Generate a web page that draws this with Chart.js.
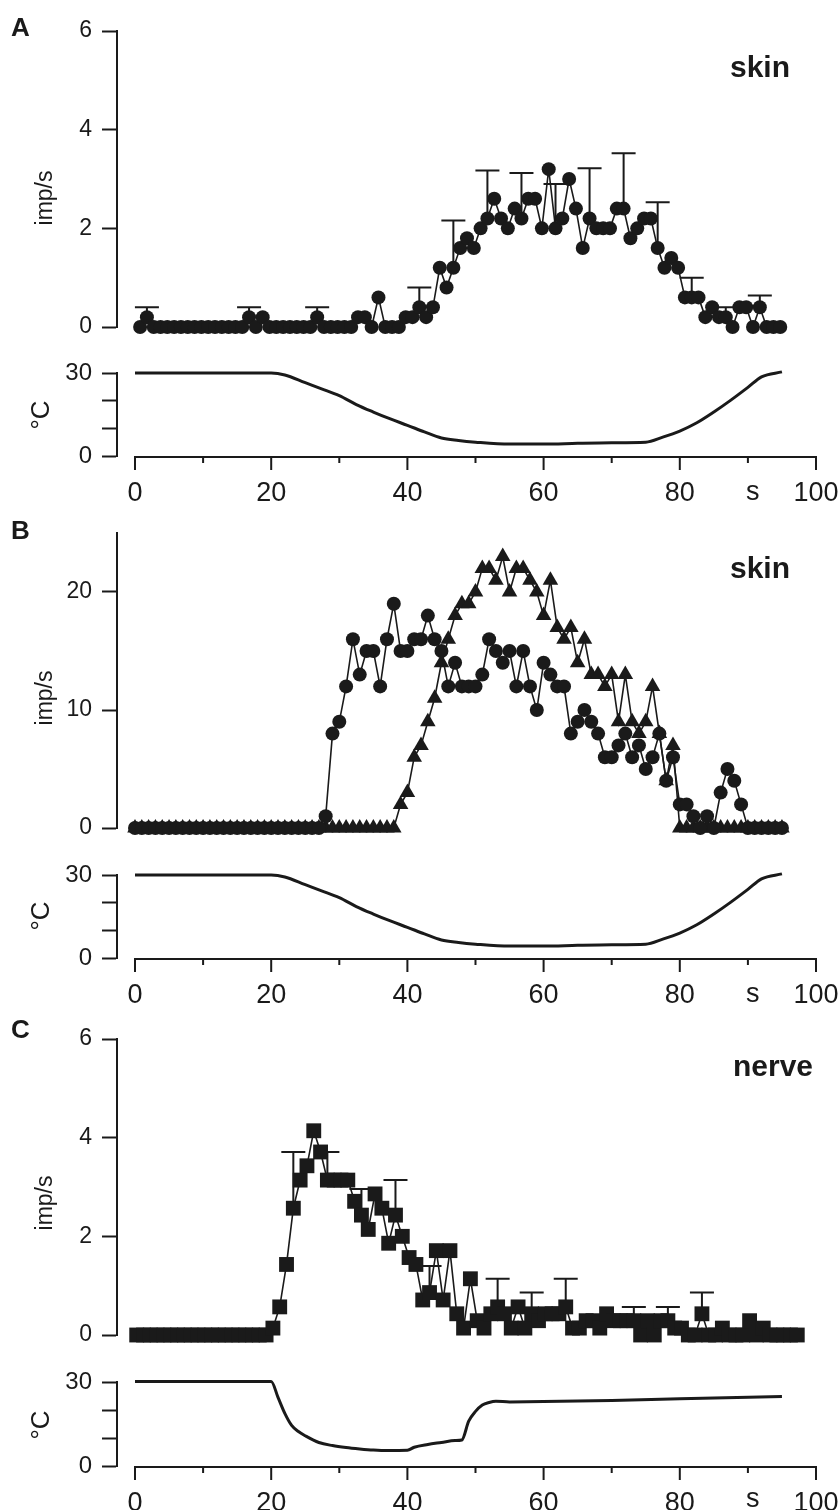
<!DOCTYPE html>
<html><head><meta charset="utf-8">
<script src="https://cdn.jsdelivr.net/npm/chart.js@4"></script>
<style>
body{margin:0;background:#fff;width:838px;height:1510px;position:relative;overflow:hidden}
canvas{position:absolute;left:0}
</style>
</head><body>
<canvas id="aImp" width="838" height="345" style="top:0px"></canvas>
<canvas id="aTemp" width="838" height="170" style="top:345px"></canvas>
<canvas id="bImp" width="838" height="330" style="top:515px"></canvas>
<canvas id="bTemp" width="838" height="170" style="top:845px"></canvas>
<canvas id="cImp" width="838" height="335" style="top:1015px"></canvas>
<canvas id="cTemp" width="838" height="160" style="top:1350px"></canvas>
<script>
// ---------------- DATA ----------------
// Panel A (skin, circles), time in s
const tA = [0.75,1.75,2.75,3.75,4.75,5.75,6.75,7.75,8.75,9.75,10.75,11.75,12.75,13.75,14.75,15.75,16.75,17.75,18.75,19.75,20.75,21.75,22.75,23.75,24.75,25.75,26.75,27.75,28.75,29.75,30.75,31.75,32.75,33.75,34.75,35.75,36.75,37.75,38.75,39.75,40.75,41.75,42.75,43.75,44.75,45.75,46.75,47.75,48.75,49.75,50.75,51.75,52.75,53.75,54.75,55.75,56.75,57.75,58.75,59.75,60.75,61.75,62.75,63.75,64.75,65.75,66.75,67.75,68.75,69.75,70.75,71.75,72.75,73.75,74.75,75.75,76.75,77.75,78.75,79.75,80.75,81.75,82.75,83.75,84.75,85.75,86.75,87.75,88.75,89.75,90.75,91.75,92.75,93.75,94.75];
const impA = [0,0.2,0,0,0,0,0,0,0,0,
  0,0,0,0,0,0,0.2,0,0.2,0,
  0,0,0,0,0,0,0.2,0,0,0,
  0,0,0.2,0.2,0,0.6,0,0,0,0.2,
  0.2,0.4,0.2,0.4,1.2,0.8,1.2,1.6,1.8,1.6,
  2.0,2.2,2.6,2.2,2.0,2.4,2.2,2.6,2.6,2.0,
  3.2,2.0,2.2,3.0,2.4,1.6,2.2,2.0,2.0,2.0,
  2.4,2.4,1.8,2.0,2.2,2.2,1.6,1.2,1.4,1.2,
  0.6,0.6,0.6,0.2,0.4,0.2,0.2,0,0.4,0.4,
  0,0.4,0,0,0];
const errIndexA = [1,16,26,41,46,51,56,61,66,71,76,81,86,91];
const errTopA   = [0.4,0.4,0.4,0.8,2.16,3.17,3.12,2.9,3.22,3.52,2.53,1.0,0.4,0.64];

// Panel B (skin, circles and triangles)
const tB = [0,1,2,3,4,5,6,7,8,9,10,11,12,13,14,15,16,17,18,19,20,21,22,23,24,25,26,27,28,29,30,31,32,33,34,35,36,37,38,39,40,41,42,43,44,45,46,47,48,49,50,51,52,53,54,55,56,57,58,59,60,61,62,63,64,65,66,67,68,69,70,71,72,73,74,75,76,77,78,79,80,81,82,83,84,85,86,87,88,89,90,91,92,93,94,95];
const circB = [0,0,0,0,0,0,0,0,0,0,0,0,0,0,0,0,0,0,0,0,0,0,0,0,0,0,0,0,
  1,8,9,12,16,13,15,15,12,16,
  19,15,15,16,16,18,16,15,12,14,
  12,12,12,13,16,15,14,15,12,15,
  12,10,14,13,12,12,8,9,10,9,
  8,6,6,7,8,6,7,5,6,8,
  4,6,2,2,1,0,1,0,3,5,
  4,2,0,0,0,0,0,0];
const triB = [0,0,0,0,0,0,0,0,0,0,0,0,0,0,0,0,0,0,0,0,0,0,0,0,0,0,0,0,0,0,0,0,0,0,0,0,0,0,0,
  2,3,6,7,9,11,14,16,18,19,
  19,20,22,22,21,23,20,22,22,21,
  20,18,21,17,16,17,14,16,13,13,
  12,13,9,13,9,8,9,12,8,4,
  7,0,0,0,0,0,0,0,0,0,0,0,0,0,0,0,0];

// Panel C (nerve, squares)
const tC = [0.25,1.25,2.25,3.25,4.25,5.25,6.25,7.25,8.25,9.25,10.25,11.25,12.25,13.25,14.25,15.25,16.25,17.25,18.25,19.25,20.25,21.25,22.25,23.25,24.25,25.25,26.25,27.25,28.25,29.25,30.25,31.25,32.25,33.25,34.25,35.25,36.25,37.25,38.25,39.25,40.25,41.25,42.25,43.25,44.25,45.25,46.25,47.25,48.25,49.25,50.25,51.25,52.25,53.25,54.25,55.25,56.25,57.25,58.25,59.25,60.25,61.25,62.25,63.25,64.25,65.25,66.25,67.25,68.25,69.25,70.25,71.25,72.25,73.25,74.25,75.25,76.25,77.25,78.25,79.25,80.25,81.25,82.25,83.25,84.25,85.25,86.25,87.25,88.25,89.25,90.25,91.25,92.25,93.25,94.25,95.25,96.25,97.25];
const impC = [0,0,0,0,0,0,0,0,0,0,0,0,0,0,0,0,0,0,0,0,
  0.14,0.57,1.43,2.57,3.14,3.43,4.14,3.71,3.14,3.14,
  3.14,3.14,2.71,2.43,2.14,2.86,2.57,1.86,2.43,2.0,
  1.57,1.43,0.71,0.86,1.71,0.71,1.71,0.43,0.14,1.14,
  0.29,0.14,0.43,0.57,0.43,0.14,0.57,0.14,0.43,0.29,
  0.43,0.43,0.43,0.57,0.14,0.14,0.29,0.29,0.14,0.43,
  0.29,0.29,0.29,0.29,0,0.29,0,0.29,0.29,0.14,
  0.14,0,0,0.43,0,0,0.14,0,0,0,
  0.29,0,0.14,0,0,0,0,0];
const errIndexC = [23,28,33,38,43,53,58,63,73,78,83];
const errTopC   = [3.71,3.71,2.96,3.14,1.4,1.14,0.86,1.14,0.57,0.57,0.86];

// Skin temperature protocol (panels A and B)
const tTempSkin = [0,20,22,25,27.5,30,32.5,35,37.5,40,42.5,45,47.5,50,55,60,65,70,75,77.5,80,82.5,85,87.5,90,92,95];
const tempSkin  = [30,30,29.3,26.5,24.2,21.8,18.6,15.9,13.4,11.1,8.7,6.5,5.6,5.0,4.3,4.3,4.6,4.8,5.0,6.8,9.0,12.0,15.9,20.2,24.8,28.6,30.4];
// Nerve temperature protocol (panel C)
const tTempNerve = [0,20,21,22,23,24,25,27,29,31,33,35,37,40,41,43,45,47,48,49,50,51,52,53,55,60,70,80,95];
const tempNerve  = [30.2,30.2,24.5,18.8,14.5,12.3,10.8,8.4,7.3,6.6,6.1,5.7,5.5,5.6,6.7,7.7,8.4,9.1,9.3,16,19.5,21.8,22.7,23.1,22.9,23,23.4,24,24.8];

// Axis ticks
const xTickVals = [0,20,40,60,80,100];
const xMarkVals = [0,10,20,30,40,50,60,70,80,90,100];
const tempTickVals = [0,10,20,30];
const tempTickLabels = ['0','','','30'];
const impTicksSmall = [0,2,4,6];
const impTicksLarge = [0,10,20];

// ---------------- RENDERING ----------------
const INK = '#1a1a1a';
const FONT = "'Liberation Sans', Arial, Helvetica, sans-serif";
const X_MIN = -2.643;

function pts(ts, vs){ return ts.map((t,i)=>({x:t, y:vs[i]})); }

function errorBarPlugin(){
  return { id:'errorBars', beforeDatasetsDraw(chart){
    const ctx = chart.ctx, xs = chart.scales.x, ys = chart.scales.y;
    chart.data.datasets.forEach(ds=>{
      if(!ds.errIndex) return;
      ctx.save(); ctx.strokeStyle = INK; ctx.lineWidth = 2;
      ds.errIndex.forEach((idx,j)=>{
        const p = ds.data[idx];
        const px = xs.getPixelForValue(p.x), py = ys.getPixelForValue(p.y), pt = ys.getPixelForValue(ds.errTop[j]);
        ctx.beginPath(); ctx.moveTo(px,py); ctx.lineTo(px,pt);
        ctx.moveTo(px-12,pt); ctx.lineTo(px+12,pt); ctx.stroke();
      });
      ctx.restore();
    });
  }};
}
function textPlugin(items){
  return { id:'texts', afterDraw(chart){
    const ctx = chart.ctx;
    items.forEach(it=>{
      ctx.save(); ctx.fillStyle = INK; ctx.font = it.font;
      ctx.textAlign = it.align || 'center'; ctx.textBaseline = it.baseline || 'middle';
      const x = (it.xVal !== undefined) ? chart.scales.x.getPixelForValue(it.xVal) : it.x;
      ctx.translate(x, it.y); if(it.rot) ctx.rotate(it.rot);
      ctx.fillText(it.text, 0, 0); ctx.restore();
    });
  }};
}
function xAxisPlugin(){
  return { id:'xAxisLine', afterDraw(chart){
    const ctx = chart.ctx, xs = chart.scales.x, y0 = chart.chartArea.bottom + 1;
    ctx.save(); ctx.strokeStyle = INK; ctx.lineWidth = 2; ctx.beginPath();
    ctx.moveTo(xs.getPixelForValue(0)-1, y0); ctx.lineTo(xs.getPixelForValue(100)+1, y0);
    xMarkVals.forEach(v=>{ const px = xs.getPixelForValue(v); const len = xTickVals.includes(v) ? 13 : 6;
      ctx.moveTo(px, y0); ctx.lineTo(px, y0+len); });
    ctx.stroke(); ctx.restore();
  }};
}

function impChart(id, cfg){
  return new Chart(document.getElementById(id), {
    type:'line',
    data:{ datasets: cfg.datasets },
    options:{
      responsive:false, animation:false, events:[],
      layout:{ padding:{ left:0, right:22, top:cfg.areaTop, bottom:cfg.h - cfg.areaBottom } },
      plugins:{ legend:{display:false}, tooltip:{enabled:false} },
      scales:{
        x:{ type:'linear', display:false, min:X_MIN, max:100 },
        y:{ type:'linear', min:0, max:cfg.yMax,
            afterBuildTicks: s=>{ s.ticks = cfg.yTicks.map(v=>({value:v})); },
            afterFit: s=>{ s.width = 117; s.paddingTop = 0; s.paddingBottom = 0; },
            border:{ display:true, color:INK, width:2 },
            grid:{ drawOnChartArea:false, drawTicks:true, tickLength:15, tickWidth:2, tickColor:INK },
            ticks:{ color:INK, padding:10, autoSkip:false, font:{ family:FONT, size:23 } } }
      }
    },
    plugins:[errorBarPlugin(), textPlugin(cfg.texts)]
  });
}

function tempChart(id, cfg){
  const axisH = cfg.h - cfg.areaBottom;
  return new Chart(document.getElementById(id), {
    type:'line',
    data:{ datasets:[{ data: pts(cfg.t, cfg.v), borderColor:INK, borderWidth:3, pointRadius:0,
      cubicInterpolationMode:'monotone', clip:false }] },
    options:{
      responsive:false, animation:false, events:[],
      layout:{ padding:{ left:0, right:22, top:cfg.areaTop, bottom:0 } },
      plugins:{ legend:{display:false}, tooltip:{enabled:false} },
      scales:{
        x:{ type:'linear', min:X_MIN, max:100,
            afterBuildTicks: s=>{ s.ticks = xTickVals.map(v=>({value:v})); },
            afterFit: s=>{ s.height = axisH; s.paddingLeft = 0; s.paddingRight = 0; },
            border:{ display:false },
            grid:{ display:true, drawOnChartArea:false, drawTicks:true, tickLength:13, color:'rgba(0,0,0,0)', tickColor:'rgba(0,0,0,0)' },
            ticks:{ color:INK, padding:8, autoSkip:false, maxRotation:0, font:{ family:FONT, size:27 } } },
        y:{ type:'linear', min:0, max:30,
            afterBuildTicks: s=>{ s.ticks = tempTickVals.map(v=>({value:v})); },
            afterFit: s=>{ s.width = 117; s.paddingTop = 0; s.paddingBottom = 0; },
            border:{ display:true, color:INK, width:2 },
            grid:{ drawOnChartArea:false, drawTicks:true, tickLength:15, tickWidth:2, tickColor:INK },
            ticks:{ color:INK, padding:10, autoSkip:false, font:{ family:FONT, size:24 }, callback:(v,i)=>tempTickLabels[i] } }
      }
    },
    plugins:[xAxisPlugin(), textPlugin(cfg.texts)]
  });
}

const lineStyle = { borderColor:INK, borderWidth:1.6, pointBackgroundColor:INK, pointBorderWidth:0, clip:false };
const BOLD = "bold 26px " + FONT;
const BOLD_L = "bold 30px " + FONT;
const UNIT = "23px " + FONT;
const DEG = "26px " + FONT;
const SFONT = "27px " + FONT;

// Panel A
impChart('aImp', { h:345, areaTop:31, areaBottom:327, yMax:6, yTicks:impTicksSmall,
  datasets:[ Object.assign({ data:pts(tA, impA), pointStyle:'circle', pointRadius:7, errIndex:errIndexA, errTop:errTopA }, lineStyle) ],
  texts:[ {text:'A', x:11, y:29, font:BOLD, align:'left'},
          {text:'skin', x:790, y:77, font:BOLD_L, align:'right', baseline:'alphabetic'},
          {text:'imp/s', x:46, y:198, font:UNIT, rot:-Math.PI/2} ] });
tempChart('aTemp', { h:170, areaTop:28, areaBottom:111, t:tTempSkin, v:tempSkin,
  texts:[ {text:'°C', x:42, y:70, font:DEG, rot:-Math.PI/2},
          {text:'s', xVal:90.7, y:148, font:SFONT} ] });

// Panel B
impChart('bImp', { h:330, areaTop:18, areaBottom:313, yMax:25, yTicks:impTicksLarge,
  datasets:[ Object.assign({ data:pts(tB, circB), pointStyle:'circle', pointRadius:7 }, lineStyle),
             Object.assign({ data:pts(tB, triB), pointStyle:'triangle', pointRadius:9 }, lineStyle) ],
  texts:[ {text:'B', x:11, y:17, font:BOLD, align:'left'},
          {text:'skin', x:790, y:63, font:BOLD_L, align:'right', baseline:'alphabetic'},
          {text:'imp/s', x:46, y:183, font:UNIT, rot:-Math.PI/2} ] });
tempChart('bTemp', { h:170, areaTop:30, areaBottom:113, t:tTempSkin, v:tempSkin,
  texts:[ {text:'°C', x:42, y:71, font:DEG, rot:-Math.PI/2},
          {text:'s', xVal:90.7, y:150, font:SFONT} ] });

// Panel C
impChart('cImp', { h:335, areaTop:24, areaBottom:320, yMax:6, yTicks:impTicksSmall,
  datasets:[ Object.assign({ data:pts(tC, impC), pointStyle:'rect', pointRadius:10.5, errIndex:errIndexC, errTop:errTopC }, lineStyle) ],
  texts:[ {text:'C', x:11, y:16, font:BOLD, align:'left'},
          {text:'nerve', x:813, y:61, font:BOLD_L, align:'right', baseline:'alphabetic'},
          {text:'imp/s', x:46, y:188, font:UNIT, rot:-Math.PI/2} ] });
tempChart('cTemp', { h:160, areaTop:32, areaBottom:116, t:tTempNerve, v:tempNerve,
  texts:[ {text:'°C', x:42, y:75, font:DEG, rot:-Math.PI/2},
          {text:'s', xVal:90.7, y:150, font:SFONT} ] });
</script>
</body></html>
